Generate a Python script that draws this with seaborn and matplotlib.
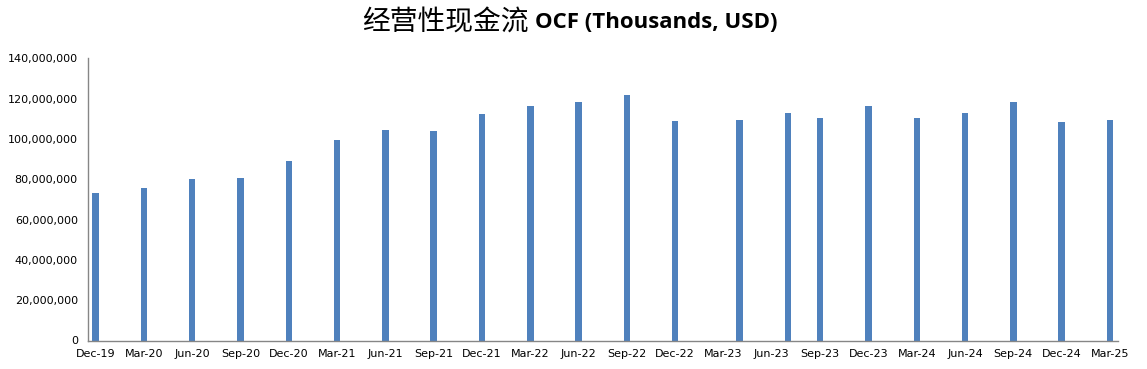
import matplotlib
matplotlib.use("Agg")
import matplotlib.pyplot as plt
import seaborn as sns
import pandas as pd
import numpy as np
from matplotlib.ticker import FuncFormatter, FixedLocator

# ---- data ----
period_end = ["2019-12", "2020-03", "2020-06", "2020-09", "2020-12", "2021-03",
              "2021-06", "2021-09", "2021-12", "2022-03", "2022-06", "2022-09",
              "2022-12", "2023-04", "2023-07", "2023-09", "2023-12", "2024-03",
              "2024-06", "2024-09", "2024-12", "2025-03"]
ocf = [73.3e6, 75.8e6, 80.1e6, 80.8e6, 89.2e6, 99.7e6,
       104.5e6, 104.0e6, 112.4e6, 116.4e6, 118.4e6, 121.8e6,
       108.9e6, 109.4e6, 112.9e6, 110.4e6, 116.4e6, 110.4e6,
       112.9e6, 118.4e6, 108.4e6, 109.4e6]
tick_months = ["2019-12", "2020-03", "2020-06", "2020-09", "2020-12", "2021-03",
               "2021-06", "2021-09", "2021-12", "2022-03", "2022-06", "2022-09",
               "2022-12", "2023-03", "2023-06", "2023-09", "2023-12", "2024-03",
               "2024-06", "2024-09", "2024-12", "2025-03"]
tick_labels = ["Dec-19", "Mar-20", "Jun-20", "Sep-20", "Dec-20", "Mar-21",
               "Jun-21", "Sep-21", "Dec-21", "Mar-22", "Jun-22", "Sep-22",
               "Dec-22", "Mar-23", "Jun-23", "Sep-23", "Dec-23", "Mar-24",
               "Jun-24", "Sep-24", "Dec-24", "Mar-25"]
title_cn = "经营性现金流"
title_en = "OCF (Thousands, USD)"

# month index relative to first period
base = pd.Period(period_end[0], freq="M")
def month_idx(s):
    return (pd.Period(s, freq="M") - base).n

df = pd.DataFrame({"m": [month_idx(p) for p in period_end], "ocf": ocf})
tick_pos = [month_idx(t) for t in tick_months]

sns.set_style("white")
plt.rcParams['font.family'] = ['DejaVu Sans']

fig = plt.figure(figsize=(11.47, 3.69), dpi=100)
ax = fig.add_axes([87.5/1147, 1 - 340.5/369, (1118 - 87.5)/1147, (340.5 - 58.3)/369])

sns.barplot(data=df, x="m", y="ocf", native_scale=True, color="#4F81BD",
            saturation=1, width=0.2, linewidth=0, ax=ax)

ax.set_xlim(-0.5, tick_pos[-1] + 0.5)
ax.set_ylim(0, 140e6)
ax.set_yticks(np.arange(0, 140e6 + 1, 20e6))
ax.yaxis.set_major_formatter(FuncFormatter(lambda v, p: f"{int(v):,}"))
ax.set_xticks(tick_pos)
ax.set_xticklabels(tick_labels)
ax.xaxis.set_minor_locator(FixedLocator([p - 0.5 for p in tick_pos]))
ax.set_xlabel("")
ax.set_ylabel("")

for s in ["top", "right"]:
    ax.spines[s].set_visible(False)
for s in ["left", "bottom"]:
    ax.spines[s].set_color("#868686")
    ax.spines[s].set_linewidth(1)

ax.tick_params(axis="x", which="major", length=0, pad=6, labelsize=8, colors="black")
ax.tick_params(axis="x", which="minor", length=4, width=1, color="#868686", direction="out")
ax.tick_params(axis="y", which="major", length=4, width=1, color="#868686", direction="out",
               pad=3, labelsize=8, labelcolor="black")
ax.grid(False)

split_x = 529 / 1147
fig.text(split_x, 1 - 22/369, title_cn, ha="right", va="center", fontsize=20,
         family=["Noto Sans CJK SC", "DejaVu Sans"], color="black")
fig.text(split_x + 6/1147, 1 - 22/369, title_en, ha="left", va="center", fontsize=16,
         fontweight="bold", family=["Open Sans", "DejaVu Sans"], color="black")

fig.savefig("out.png", dpi=100)
